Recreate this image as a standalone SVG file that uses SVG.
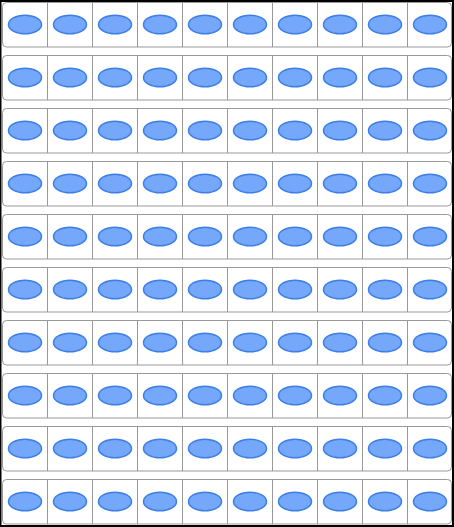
<svg xmlns="http://www.w3.org/2000/svg" xmlns:xlink="http://www.w3.org/1999/xlink" width="454" height="527" viewBox="0 0 454 527">
<style>
.box{fill:#fff;stroke:#999;stroke-width:1}
.div{stroke:#999;stroke-width:1}
.dot{fill:#75a8fb;stroke:#3d7fe6;stroke-width:1.5}
</style>
<defs>
<g id="row">
<rect class="box" x="2.5" y="2.5" width="449" height="44.5" rx="4"/>
<path class="div" d="M47.5 2.5V47M92.5 2.5V47M137.5 2.5V47M182.5 2.5V47M227.5 2.5V47M272.5 2.5V47M317.5 2.5V47M362.5 2.5V47M407.5 2.5V47"/>
<ellipse class="dot" cx="25" cy="24.5" rx="16.5" ry="9.25"/>
<ellipse class="dot" cx="70" cy="24.5" rx="16.5" ry="9.25"/>
<ellipse class="dot" cx="115" cy="24.5" rx="16.5" ry="9.25"/>
<ellipse class="dot" cx="160" cy="24.5" rx="16.5" ry="9.25"/>
<ellipse class="dot" cx="205" cy="24.5" rx="16.5" ry="9.25"/>
<ellipse class="dot" cx="250" cy="24.5" rx="16.5" ry="9.25"/>
<ellipse class="dot" cx="295" cy="24.5" rx="16.5" ry="9.25"/>
<ellipse class="dot" cx="340" cy="24.5" rx="16.5" ry="9.25"/>
<ellipse class="dot" cx="385" cy="24.5" rx="16.5" ry="9.25"/>
<ellipse class="dot" cx="430" cy="24.5" rx="16.5" ry="9.25"/>
</g>
</defs>
<rect x="0" y="0" width="454" height="527" fill="#fff"/>
<g id="row1"><use href="#row" xlink:href="#row" y="0"/></g>
<g id="row2"><use href="#row" xlink:href="#row" y="53"/></g>
<g id="row3"><use href="#row" xlink:href="#row" y="106"/></g>
<g id="row4"><use href="#row" xlink:href="#row" y="159"/></g>
<g id="row5"><use href="#row" xlink:href="#row" y="212"/></g>
<g id="row6"><use href="#row" xlink:href="#row" y="265"/></g>
<g id="row7"><use href="#row" xlink:href="#row" y="318"/></g>
<g id="row8"><use href="#row" xlink:href="#row" y="371"/></g>
<g id="row9"><use href="#row" xlink:href="#row" y="424"/></g>
<g id="row10"><use href="#row" xlink:href="#row" y="477"/></g>
<g id="connectors"></g>
<path d="M0 1H454M0.5 0V527M453 0V527M0 526H454" fill="none" stroke="#000" stroke-width="2"/>
</svg>
